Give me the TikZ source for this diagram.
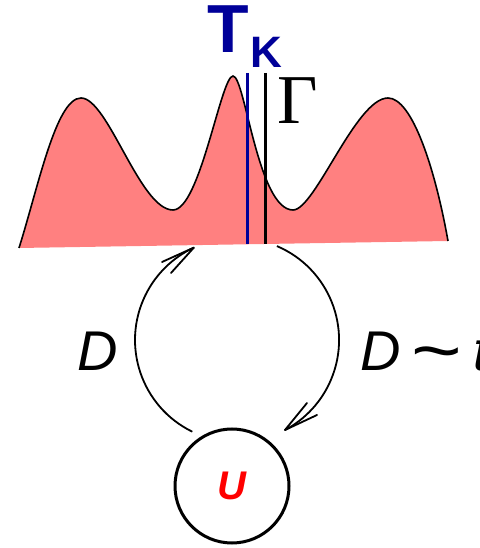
\documentclass[tikz,border=0pt]{standalone}
\usepackage{fontspec}
\setmainfont{Liberation Sans}
\newfontfamily\seriffont{Liberation Serif}
\usetikzlibrary{arrows.meta}
\definecolor{tkblue}{RGB}{0,0,153}
\definecolor{salmon}{RGB}{255,128,128}
\begin{document}
\begin{tikzpicture}[x=1pt,y=1pt,
  lbl/.style={inner sep=0pt, outer sep=0pt},
  conn/.style={line width=1.8pt},
  barb/.style={line width=1.8pt, line join=round, line cap=round},
  curve/.style={line width=1.6pt},
  vline/.style={line width=3pt}]
\useasboundingbox (0,0) rectangle (479,548);
% distribution
\def\crv{(19,300) .. controls (38,360) and (56,450) .. (81,450)
  .. controls (108,450) and (140,338) .. (173,338)
  .. controls (200,338) and (221,472) .. (233,472)
  .. controls (245,472) and (258,338) .. (293,338)
  .. controls (315,338) and (356,450) .. (388,450)
  .. controls (412,450) and (435,380) .. (448,307)}
\fill[salmon] \crv -- cycle;
\draw[curve] \crv;
% vertical lines
\coordinate (bt) at (247,475);
\coordinate (bb) at (247,304);
\coordinate (kt) at (265,475);
\coordinate (kb) at (265,304);
\draw[vline, tkblue] (bt) -- (bb);
\draw[vline, black] (kt) -- (kb);
% labels
\node[lbl, anchor=base west, text=tkblue, text height=47pt, font=\bfseries\fontsize{68}{70}\selectfont] (tk) at (207,495) {T};
\node[lbl, anchor=base west, text=tkblue, font=\bfseries\fontsize{44}{46}\selectfont] (k) at (250,480) {K};
\node[lbl, anchor=base west, font=\seriffont\fontsize{70}{72}\selectfont] (gamma) at (277,424) {Γ};
\node[lbl, anchor=base west, font=\itshape\fontsize{56}{60}\selectfont] (dl) at (77,177) {D};
\node[lbl, anchor=base west, font=\fontsize{56}{60}\selectfont] (dr) at (360,177) {\textit{D}\hspace{11pt}\raisebox{-5pt}{\scalebox{1.55}[1.3]{\textasciitilde}}\hspace{11pt}\textit{t}};
% U circle
\node[circle, draw, line width=3pt, minimum size=114pt, inner sep=0pt, text=red, font=\bfseries\itshape\fontsize{40}{42}\selectfont] (u) at (232,62) {U};
% arcs
\coordinate (lb) at (192.3,116.3);
\coordinate (rt) at (276.9,301.9);
\draw[conn] (lb) arc[start angle=244, end angle=115, radius=102] coordinate (tipL);
\draw[conn] (rt) arc[start angle=67, end angle=-62, radius=102] coordinate (tipR);
% open arrowheads
\draw[barb] (162,286) -- (tipL) -- (171,275);
\draw[barb] (307,145) -- (tipR) -- (317,133);
\end{tikzpicture}
\end{document}
